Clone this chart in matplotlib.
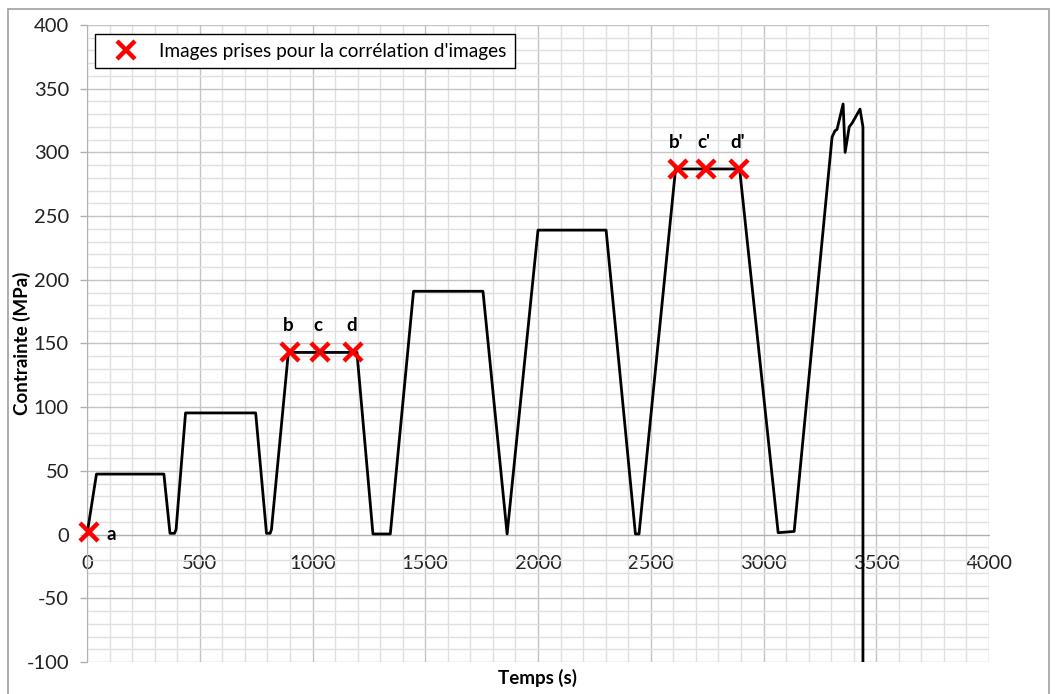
import matplotlib
matplotlib.use("Agg")
import matplotlib.pyplot as plt
from matplotlib.patches import Rectangle
from matplotlib.ticker import MultipleLocator

# Data
temps = [0, 42, 341, 368, 388, 395, 437, 748, 796, 812, 818, 893, 1197,
         1268, 1345, 1448, 1756, 1863, 2000, 2302, 2432, 2448, 2610, 2894,
         3065, 3136, 3304, 3317, 3326, 3353, 3362, 3380, 3393, 3428, 3441, 3441]
contrainte = [0, 47.5, 47.5, 1, 1, 4, 95.5, 95.5, 1, 1, 4, 143, 143,
              0.5, 0.5, 191, 191, 0.5, 239, 239, 0.5, 0.5, 287, 287,
              1.5, 2.5, 312, 317, 318, 338, 300, 320, 323, 334, 320, -120]

marker_t = [9, 900, 1033, 1180, 2621, 2745, 2892]
marker_s = [2, 143, 143, 143, 287, 287, 287]
marker_labels = ["a", "b", "c", "d", "b'", "c'", "d'"]

xticks = [0, 500, 1000, 1500, 2000, 2500, 3000, 3500, 4000]
yticks = [-100, -50, 0, 50, 100, 150, 200, 250, 300, 350, 400]

plt.rcParams['font.family'] = ['Lato', 'DejaVu Sans']
plt.rcParams['axes.unicode_minus'] = False

W, H = 1056, 694
fig = plt.figure(figsize=(W / 100, H / 100), dpi=100)
ax = fig.add_axes([87 / W, 1 - 662 / H, (989 - 87) / W, (662 - 25) / H])

ax.set_xlim(0, 4000)
ax.set_ylim(-100, 400)
ax.set_xticks(xticks)
ax.set_yticks(yticks)
ax.xaxis.set_minor_locator(MultipleLocator(100))
ax.yaxis.set_minor_locator(MultipleLocator(10))
ax.grid(which='major', color='#c4c4c4', lw=1.0, zorder=0)
ax.grid(which='minor', color='#e0e0e0', lw=1.0, zorder=0)
ax.set_axisbelow(True)

for s in ['top', 'right']:
    ax.spines[s].set_visible(False)
ax.spines['bottom'].set_position(('data', 0))
ax.spines['bottom'].set_color('#b0b0b0')
ax.spines['left'].set_color('#b0b0b0')
ax.tick_params(axis='y', which='major', length=5, width=1, color='#b0b0b0',
               pad=8, labelsize=14.5, labelcolor='#222222')
ax.tick_params(axis='x', which='major', length=0, pad=15, labelsize=14.5,
               labelcolor='#222222')
ax.tick_params(which='minor', length=0)

ax.plot(temps, contrainte, color='black', lw=2.0, zorder=3, clip_on=True)

ax.plot(marker_t, marker_s, linestyle='none', marker='x', color='#ff0000',
        markersize=13, mew=3.2, zorder=4, clip_on=False,
        label="Images prises pour la corrélation d'images")

# point labels
for t, s, lab in zip(marker_t, marker_s, marker_labels):
    if lab == "a":
        ax.text(t + 100, s - 2, lab, fontsize=13.5, fontweight='bold',
                ha='center', va='center', zorder=5)
    else:
        ax.text(t - 8, s + 21, lab, fontsize=13.5, fontweight='bold',
                ha='center', va='center', zorder=5)

leg = ax.legend(loc='upper left', bbox_to_anchor=((95 - 87) / 902, 1 - (34 - 25) / 637),
                borderaxespad=0, fancybox=False, edgecolor='black',
                framealpha=1, fontsize=13.7, handletextpad=0.5,
                borderpad=0.45, handlelength=2.4)
leg.get_frame().set_linewidth(1.0)

fig.text(22 / W, 1 - 343 / H, "Contrainte (MPa)", rotation=90, fontsize=13.5,
         fontweight='bold', ha='center', va='center')
fig.text(538 / W, 1 - 678 / H, "Temps (s)", fontsize=13.5,
         fontweight='bold', ha='center', va='center')

fig.patches.append(Rectangle((7.5 / W, -0.05), (1049 - 7.5) / W, 1.05 - 9 / H,
                             transform=fig.transFigure, fill=False,
                             edgecolor='#a0a0a0', lw=1.2))

fig.savefig("out.png", dpi=100)
